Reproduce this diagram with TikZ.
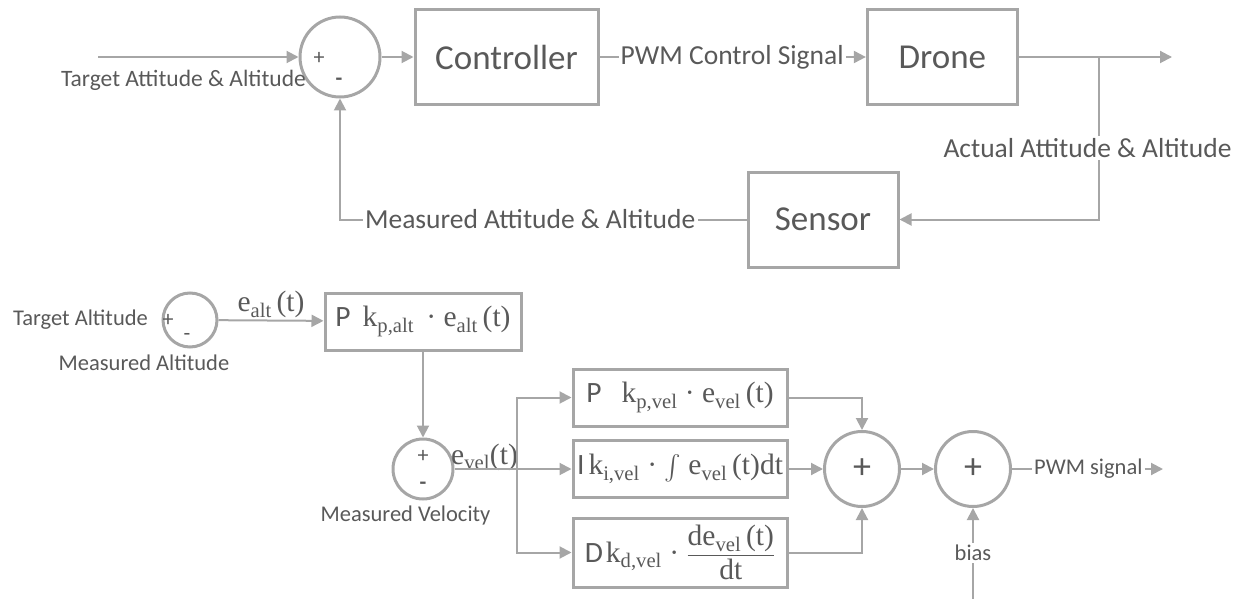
\documentclass[tikz,border=0pt]{standalone}
\usepackage{amsmath}
\usepackage{fontspec}
\setmainfont{Carlito}
\newfontfamily\mserif{Liberation Serif}
\usetikzlibrary{positioning,arrows.meta}
\definecolor{linegray}{HTML}{A6A6A6}
\definecolor{textgray}{HTML}{595959}

\begin{document}
\begin{tikzpicture}[
x=1pt, y=1pt,
box/.style={draw=linegray, line width=3pt, minimum width=150pt, minimum height=95pt, inner sep=0pt, text=textgray, font=\fontsize{35}{42}\selectfont},
pidbox/.style={draw=linegray, line width=3pt, minimum width=214pt, minimum height=57pt, inner sep=0pt, text=textgray, font=\fontsize{29.5}{34}\selectfont},
sumc/.style={draw=linegray, circle, line width=3pt, inner sep=0pt, text=textgray, font=\fontsize{36}{40}\selectfont},
lbl/.style={inner sep=2pt, text=textgray, font=\fontsize{27.5}{32}\selectfont},
small/.style={inner sep=2pt, text=textgray, font=\fontsize{22.5}{27}\selectfont},
mlbl/.style={inner sep=2pt, text=textgray, font=\fontsize{29.5}{34}\selectfont\mserif},
sign/.style={inner sep=0pt, text=textgray, font=\fontsize{22}{26}\selectfont},
line/.style={line width=2pt, linegray},
arrow/.style={line width=2pt, linegray, -{Triangle[length=12pt, width=12pt]}}
]
\useasboundingbox (0,0) rectangle (1252,-599);

% attitude and altitude loop
\node[sumc, minimum size=80pt] (sum) at (340,-57) {};
\node[sign] (sump) at (319,-58) {+};
\node[sign, font=\fontsize{22}{26}\selectfont\bfseries] (summ) at (339,-82) {-};
\coordinate (in) at (98,-57);
\draw[arrow] (in) -- (sum);
\node[small, font=\fontsize{23.5}{28}\selectfont, anchor=east, inner sep=0pt] (tgt) at (306,-80) {Target Attitude \& Altitude};
\node[box, minimum width=183pt, right=32pt of sum] (ctrl) {Controller};
\node[lbl, right=19pt of ctrl] (pwm) {PWM Control Signal};
\node[box, right=20pt of pwm] (drone) {Drone};
\draw[arrow] (sum) -- (ctrl);
\draw[line] (ctrl) -- (pwm);
\draw[arrow] (pwm) -- (drone);
\coordinate (out) at (1172,-57);
\coordinate (br) at (1099,-57);
\draw[arrow] (drone) -- (out);
\node[lbl] (act) at (1087.5,-148) {Actual Attitude \& Altitude};
\node[box] (sensor) at (823,-219.5) {Sensor};
\draw[line] (br) -- (br |- act.north);
\draw[arrow] (act.south -| br) |- (sensor);
\node[lbl, left=49pt of sensor] (meas) {Measured Attitude \& Altitude};
\draw[line] (sensor) -- (meas);
\draw[arrow] (meas) -| (sum);

% altitude and velocity PID
\node[small] (talt) at (80.5,-320) {Target Altitude};
\node[sumc, minimum size=54pt] (salt) at (190,-320) {};
\node[sign] (saltp) at (168,-320) {+};
\node[sign] (saltm) at (187,-337) {-};
\node[small] (malt) at (144,-363) {Measured Altitude};
\node[pidbox, minimum width=196pt] (palt) at (423,-321.5) {P\hspace{12pt}\mserif k\textsubscript{p,alt}\, · e\textsubscript{alt}\,(t)};
\draw[arrow] (salt) -- node[mlbl, above] (ealt) {e\textsubscript{alt}\,(t)} (palt);
\node[sumc, minimum size=60pt] (svel) at (423,-469) {};
\node[sign] (svelp) at (423,-456) {+};
\node[sign, font=\fontsize{22}{26}\selectfont\bfseries] (svelm) at (423,-486) {-};
\node[small] (mvel) at (405.5,-515) {Measured Velocity};
\node[mlbl] (evel) at (484.5,-457) {e\textsubscript{vel}(t)};
\draw[arrow] (palt) -- (svel);
\coordinate (split) at (517,-469);
\node[pidbox] (pvel) at (680,-397.5) {P\hspace{20pt}\mserif k\textsubscript{p,vel} · e\textsubscript{vel}\,(t)};
\node[pidbox] (ivel) at (680,-469) {I\hspace{4pt}\mserif k\textsubscript{i,vel} · $\int$ e\textsubscript{vel}\,(t)dt};
\node[pidbox, minimum height=69pt] (dvel) at (680,-552.5) {D\hspace{3pt}\mserif k\textsubscript{d,vel} · $\displaystyle\frac{\hbox{\mserif de\textsubscript{vel}\,(t)}}{\hbox{\mserif dt}}$};
\draw[arrow] (svel) -- (ivel);
\draw[arrow] (split) |- (pvel);
\draw[arrow] (split) |- (dvel);
\node[sumc, minimum size=75pt] (sadd) at (862,-469) {+};
\node[sumc, minimum size=75pt] (sbias) at (973,-469) {+};
\draw[arrow] (pvel) -| (sadd);
\draw[arrow] (ivel) -- (sadd);
\draw[arrow] (dvel) -| (sadd);
\draw[arrow] (sadd) -- (sbias);
\node[small, right=20pt of sbias] (pwmout) {PWM signal};
\coordinate (pwmend) at (1163,-469);
\draw[line] (sbias) -- (pwmout);
\draw[arrow] (pwmout) -- (pwmend);
\node[small] (bias) at (973,-553) {bias};
\coordinate (biasin) at (973,-599);
\draw[line] (biasin) -- (bias);
\draw[arrow] (bias) -- (sbias);
\end{tikzpicture}
\end{document}
